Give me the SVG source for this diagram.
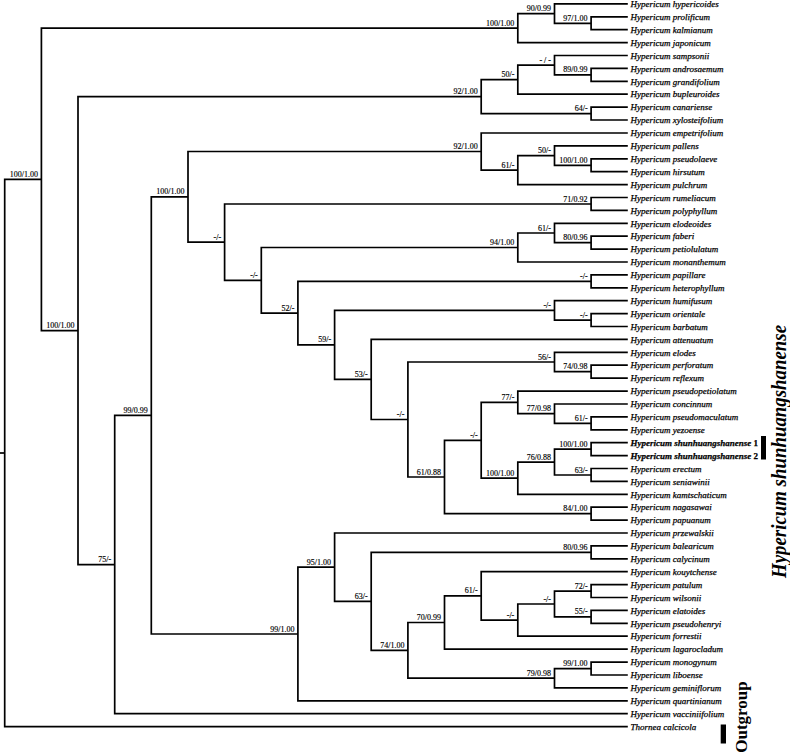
<svg xmlns="http://www.w3.org/2000/svg" width="790" height="756" viewBox="0 0 790 756">
<style>
.e{fill:none;stroke:#000;stroke-width:1.7;stroke-linejoin:miter}
.s{font-family:"Liberation Serif","Times New Roman",serif;font-size:8px;text-anchor:end;fill:#000;stroke:#000;stroke-width:0.15}
.t{font-family:"Liberation Serif","Times New Roman",serif;font-size:9px;font-style:italic;fill:#000;stroke:#000;stroke-width:0.25}
.b{font-weight:bold}
.u{font-style:normal}
</style>
<rect width="790" height="756" fill="#fff"/>
<g id="connectors" class="e">
<path d="M0 453H4.7"/>
<path d="M41.4 179.3H4.7V726.6H627.8"/>
<path d="M517.8 28.1H41.4V330.6H78"/>
<path d="M554.5 13.6H517.8V42.6H627.8"/>
<path d="M627.8 3.9H554.5V23.3H591.1"/>
<path d="M627.8 16.8H591.1V29.7H627.8"/>
<path d="M481.2 96.6H78V564.6H114.7"/>
<path d="M517.8 79.7H481.2V113.6H591.1"/>
<path d="M554.5 65.2H517.8V94.2H627.8"/>
<path d="M627.8 55.5H554.5V74.9H591.1"/>
<path d="M627.8 68.4H591.1V81.3H627.8"/>
<path d="M627.8 107.1H591.1V120H627.8"/>
<path d="M151.3 415.4H114.7V713.7H627.8"/>
<path d="M188 196.8H151.3V634H297.9"/>
<path d="M481.2 151.5H188V242.1H224.6"/>
<path d="M627.8 133H481.2V170.1H517.8"/>
<path d="M554.5 155.6H517.8V184.6H627.8"/>
<path d="M627.8 145.9H554.5V165.3H591.1"/>
<path d="M627.8 158.8H591.1V171.7H627.8"/>
<path d="M591.1 204H224.6V280.3H261.3"/>
<path d="M627.8 197.5H591.1V210.4H627.8"/>
<path d="M517.8 247.5H261.3V313.1H297.9"/>
<path d="M554.5 233H517.8V262H627.8"/>
<path d="M627.8 223.3H554.5V242.7H591.1"/>
<path d="M627.8 236.2H591.1V249.1H627.8"/>
<path d="M591.1 281.4H297.9V344.9H334.6"/>
<path d="M627.8 274.9H591.1V287.8H627.8"/>
<path d="M554.5 310.4H334.6V379.4H371.2"/>
<path d="M627.8 300.7H554.5V320.1H591.1"/>
<path d="M627.8 313.6H591.1V326.5H627.8"/>
<path d="M627.8 339.4H371.2V419.5H407.9"/>
<path d="M554.5 362H407.9V477H444.5"/>
<path d="M627.8 352.3H554.5V371.7H591.1"/>
<path d="M627.8 365.2H591.1V378.1H627.8"/>
<path d="M481.2 440.3H444.5V513.7H591.1"/>
<path d="M517.8 402.4H481.2V478.2H517.8"/>
<path d="M627.8 391.1H517.8V413.7H554.5"/>
<path d="M627.8 404H554.5V423.4H591.1"/>
<path d="M627.8 416.9H591.1V429.8H627.8"/>
<path d="M554.5 462.1H517.8V494.3H627.8"/>
<path d="M591.1 449.2H554.5V475H591.1"/>
<path d="M627.8 442.7H591.1V455.6H627.8"/>
<path d="M627.8 468.5H591.1V481.4H627.8"/>
<path d="M627.8 507.2H591.1V520.1H627.8"/>
<path d="M334.6 567.2H297.9V700.8H627.8"/>
<path d="M627.8 533H334.6V601.4H371.2"/>
<path d="M591.1 552.4H371.2V650.4H407.9"/>
<path d="M627.8 545.9H591.1V558.8H627.8"/>
<path d="M444.5 622.5H407.9V678.2H554.5"/>
<path d="M481.2 595.9H444.5V649.1H627.8"/>
<path d="M627.8 571.7H481.2V620.1H517.8"/>
<path d="M554.5 604H517.8V636.2H627.8"/>
<path d="M591.1 591.1H554.5V616.9H591.1"/>
<path d="M627.8 584.6H591.1V597.5H627.8"/>
<path d="M627.8 610.4H591.1V623.3H627.8"/>
<path d="M591.1 668.6H554.5V687.9H627.8"/>
<path d="M627.8 662.1H591.1V675H627.8"/>
</g>
<g id="supports" class="s">
<g id="nA"><text x="37.9" y="176.8">100/1.00</text></g>
<g id="nN1"><text x="514.3" y="25.6">100/1.00</text></g>
<g id="nN1a"><text x="551" y="11.1">90/0.99</text></g>
<g id="nN1b"><text x="587.6" y="20.8">97/1.00</text></g>
<g id="nC"><text x="74.5" y="328.1">100/1.00</text></g>
<g id="nD"><text x="477.7" y="94.1">92/1.00</text></g>
<g id="nD1"><text x="514.3" y="77.2">50/-</text></g>
<g id="nD1a"><text x="551" y="62.7">- / -</text></g>
<g id="nD1b"><text x="587.6" y="72.4">89/0.99</text></g>
<g id="nD2"><text x="587.6" y="111.1">64/-</text></g>
<g id="nE"><text x="111.2" y="562.1">75/-</text></g>
<g id="nF"><text x="147.8" y="412.9">99/0.99</text></g>
<g id="nG"><text x="184.5" y="194.3">100/1.00</text></g>
<g id="nG1"><text x="477.7" y="149">92/1.00</text></g>
<g id="nG1a"><text x="514.3" y="167.6">61/-</text></g>
<g id="nG1b"><text x="551" y="153.1">50/-</text></g>
<g id="nG1c"><text x="587.6" y="162.8">100/1.00</text></g>
<g id="nG2"><text x="221.1" y="239.6">-/-</text></g>
<g id="nG2a"><text x="587.6" y="201.5">71/0.92</text></g>
<g id="nG3"><text x="257.8" y="277.8">-/-</text></g>
<g id="nG3a"><text x="514.3" y="245">94/1.00</text></g>
<g id="nG3b"><text x="551" y="230.5">61/-</text></g>
<g id="nG3c"><text x="587.6" y="240.2">80/0.96</text></g>
<g id="nG4"><text x="294.4" y="310.6">52/-</text></g>
<g id="nGp"><text x="587.6" y="278.9">-/-</text></g>
<g id="nG5"><text x="331.1" y="342.4">59/-</text></g>
<g id="nG5a"><text x="551" y="307.9">-/-</text></g>
<g id="nG5b"><text x="587.6" y="317.6">-/-</text></g>
<g id="nG6"><text x="367.7" y="376.9">53/-</text></g>
<g id="nG7"><text x="404.4" y="417">-/-</text></g>
<g id="nG7a"><text x="551" y="359.5">56/-</text></g>
<g id="nG7b"><text x="587.6" y="369.2">74/0.98</text></g>
<g id="nG8"><text x="441" y="474.5">61/0.88</text></g>
<g id="nG9"><text x="477.7" y="437.8">-/-</text></g>
<g id="nG9a"><text x="514.3" y="399.9">77/-</text></g>
<g id="nG9b"><text x="551" y="411.2">77/0.98</text></g>
<g id="nG9c"><text x="587.6" y="420.9">61/-</text></g>
<g id="nG10"><text x="514.3" y="475.7">100/1.00</text></g>
<g id="nG10a"><text x="551" y="459.6">76/0.88</text></g>
<g id="nG10b"><text x="587.6" y="446.7">100/1.00</text></g>
<g id="nG10c"><text x="587.6" y="472.5">63/-</text></g>
<g id="nG8b"><text x="587.6" y="511.2">84/1.00</text></g>
<g id="nH"><text x="294.4" y="631.5">99/1.00</text></g>
<g id="nH1"><text x="331.1" y="564.7">95/1.00</text></g>
<g id="nH2"><text x="367.7" y="598.9">63/-</text></g>
<g id="nH2a"><text x="587.6" y="549.9">80/0.96</text></g>
<g id="nH3"><text x="404.4" y="647.9">74/1.00</text></g>
<g id="nH4"><text x="441" y="620">70/0.99</text></g>
<g id="nH4a"><text x="477.7" y="593.4">61/-</text></g>
<g id="nH4b"><text x="514.3" y="617.6">-/-</text></g>
<g id="nH4c"><text x="551" y="601.5">-/-</text></g>
<g id="nH4d"><text x="587.6" y="588.6">72/-</text></g>
<g id="nH4e"><text x="587.6" y="614.4">55/-</text></g>
<g id="nH5"><text x="551" y="675.7">79/0.98</text></g>
<g id="nH5a"><text x="587.6" y="666.1">99/1.00</text></g>
</g>
<g id="leaves" class="t">
<g id="l1"><text x="630.5" y="7.1">Hypericum hypericoides</text></g>
<g id="l2"><text x="630.5" y="20">Hypericum prolificum</text></g>
<g id="l3"><text x="630.5" y="32.9">Hypericum kalmianum</text></g>
<g id="l4"><text x="630.5" y="45.8">Hypericum japonicum</text></g>
<g id="l5"><text x="630.5" y="58.7">Hypericum sampsonii</text></g>
<g id="l6"><text x="630.5" y="71.6">Hypericum androsaemum</text></g>
<g id="l7"><text x="630.5" y="84.5">Hypericum grandifolium</text></g>
<g id="l8"><text x="630.5" y="97.4">Hypericum bupleuroides</text></g>
<g id="l9"><text x="630.5" y="110.3">Hypericum canariense</text></g>
<g id="l10"><text x="630.5" y="123.2">Hypericum xylosteifolium</text></g>
<g id="l11"><text x="630.5" y="136.2">Hypericum empetrifolium</text></g>
<g id="l12"><text x="630.5" y="149.1">Hypericum pallens</text></g>
<g id="l13"><text x="630.5" y="162">Hypericum pseudolaeve</text></g>
<g id="l14"><text x="630.5" y="174.9">Hypericum hirsutum</text></g>
<g id="l15"><text x="630.5" y="187.8">Hypericum pulchrum</text></g>
<g id="l16"><text x="630.5" y="200.7">Hypericum rumeliacum</text></g>
<g id="l17"><text x="630.5" y="213.6">Hypericum polyphyllum</text></g>
<g id="l18"><text x="630.5" y="226.5">Hypericum elodeoides</text></g>
<g id="l19"><text x="630.5" y="239.4">Hypericum faberi</text></g>
<g id="l20"><text x="630.5" y="252.3">Hypericum petiolulatum</text></g>
<g id="l21"><text x="630.5" y="265.2">Hypericum monanthemum</text></g>
<g id="l22"><text x="630.5" y="278.1">Hypericum papillare</text></g>
<g id="l23"><text x="630.5" y="291">Hypericum heterophyllum</text></g>
<g id="l24"><text x="630.5" y="303.9">Hypericum humifusum</text></g>
<g id="l25"><text x="630.5" y="316.8">Hypericum orientale</text></g>
<g id="l26"><text x="630.5" y="329.7">Hypericum barbatum</text></g>
<g id="l27"><text x="630.5" y="342.6">Hypericum attenuatum</text></g>
<g id="l28"><text x="630.5" y="355.5">Hypericum elodes</text></g>
<g id="l29"><text x="630.5" y="368.4">Hypericum perforatum</text></g>
<g id="l30"><text x="630.5" y="381.3">Hypericum reflexum</text></g>
<g id="l31"><text x="630.5" y="394.3">Hypericum pseudopetiolatum</text></g>
<g id="l32"><text x="630.5" y="407.2">Hypericum concinnum</text></g>
<g id="l33"><text x="630.5" y="420.1">Hypericum pseudomaculatum</text></g>
<g id="l34"><text x="630.5" y="433">Hypericum yezoense</text></g>
<g id="l35"><text x="630.5" y="445.9" class="b">Hypericum shunhuangshanense <tspan class="u">1</tspan></text></g>
<g id="l36"><text x="630.5" y="458.8" class="b">Hypericum shunhuangshanense <tspan class="u">2</tspan></text></g>
<g id="l37"><text x="630.5" y="471.7">Hypericum erectum</text></g>
<g id="l38"><text x="630.5" y="484.6">Hypericum seniawinii</text></g>
<g id="l39"><text x="630.5" y="497.5">Hypericum kamtschaticum</text></g>
<g id="l40"><text x="630.5" y="510.4">Hypericum nagasawai</text></g>
<g id="l41"><text x="630.5" y="523.3">Hypericum papuanum</text></g>
<g id="l42"><text x="630.5" y="536.2">Hypericum przewalskii</text></g>
<g id="l43"><text x="630.5" y="549.1">Hypericum balearicum</text></g>
<g id="l44"><text x="630.5" y="562">Hypericum calycinum</text></g>
<g id="l45"><text x="630.5" y="574.9">Hypericum kouytchense</text></g>
<g id="l46"><text x="630.5" y="587.8">Hypericum patulum</text></g>
<g id="l47"><text x="630.5" y="600.7">Hypericum wilsonii</text></g>
<g id="l48"><text x="630.5" y="613.6">Hypericum elatoides</text></g>
<g id="l49"><text x="630.5" y="626.5">Hypericum pseudohenryi</text></g>
<g id="l50"><text x="630.5" y="639.4">Hypericum forrestii</text></g>
<g id="l51"><text x="630.5" y="652.3">Hypericum lagarocladum</text></g>
<g id="l52"><text x="630.5" y="665.3">Hypericum monogynum</text></g>
<g id="l53"><text x="630.5" y="678.2">Hypericum liboense</text></g>
<g id="l54"><text x="630.5" y="691.1">Hypericum geminiflorum</text></g>
<g id="l55"><text x="630.5" y="704">Hypericum quartinianum</text></g>
<g id="l56"><text x="630.5" y="716.9">Hypericum vacciniifolium</text></g>
<g id="l57"><text x="630.5" y="729.8">Thornea calcicola</text></g>
</g>
<g id="group-shunhuangshanense">
<rect x="761" y="436" width="5" height="23.5" fill="#000"/>
<text transform="translate(786 451.5) rotate(-90)" text-anchor="middle" font-family="'Liberation Serif','Times New Roman',serif" font-size="20" font-weight="bold" font-style="italic" textLength="253" lengthAdjust="spacingAndGlyphs">Hypericum shunhuangshanense</text>
</g>
<g id="group-outgroup">
<rect x="720.7" y="724.5" width="5.3" height="19" fill="#000"/>
<text transform="translate(747 717) rotate(-90)" text-anchor="middle" font-family="'Liberation Serif','Times New Roman',serif" font-size="17" font-weight="bold">Outgroup</text>
</g>
</svg>
